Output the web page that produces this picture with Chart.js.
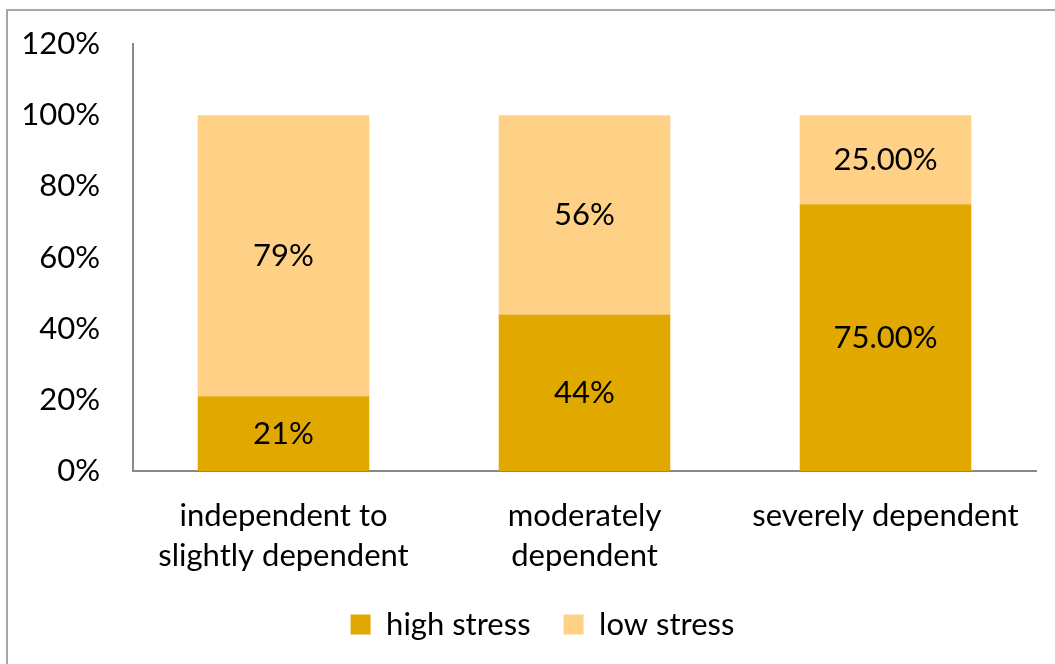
<!DOCTYPE html>
<html>
<head>
<meta charset="utf-8">
<script src="https://cdn.jsdelivr.net/npm/chart.js@4/dist/chart.umd.min.js"></script>
<style>
  html, body { margin: 0; padding: 0; background: #fff; overflow: hidden; }
  #frame { position: absolute; left: 6px; top: 9px; width: 1200px; height: 800px; border: 2px solid #a6a6a6; }
  #wrap { position: absolute; left: 0; top: 0; width: 1055px; height: 664px; }
</style>
</head>
<body>
<div id="frame"></div>
<div id="wrap"><canvas id="stress"></canvas></div>
<script>
var categories = [['independent to', 'slightly dependent'], ['moderately', 'dependent'], 'severely dependent'];
var highStress = [21, 44, 75];
var lowStress = [79, 56, 25];
var highLabels = ['21%', '44%', '75.00%'];
var lowLabels = ['79%', '56%', '25.00%'];
var yTicks = [0, 20, 40, 60, 80, 100, 120];

var fontFamily = "Lato, 'Open Sans', sans-serif";
var fontSize = 31;

// draw the value text in the middle of each bar segment
var barText = {
    id: 'barText',
    afterDatasetsDraw: function(chart) {
        var ctx = chart.ctx;
        ctx.save();
        ctx.font = fontSize + 'px ' + fontFamily;
        ctx.fillStyle = '#000';
        ctx.textAlign = 'center';
        ctx.textBaseline = 'middle';
        chart.data.datasets.forEach(function(ds, i) {
            var meta = chart.getDatasetMeta(i);
            meta.data.forEach(function(bar, j) {
                ctx.fillText(ds.valueLabels[j], bar.x, (bar.y + bar.base) / 2);
            });
        });
        ctx.restore();
    }
};

// legend sits a bit right of the canvas centre
var legendShift = {
    id: 'legendShift',
    afterLayout: function(chart) {
        chart.legend.left += 49;
    }
};

var ctx = document.getElementById('stress');
var chart = new Chart(ctx, {
    type: 'bar',
    data: {
        labels: categories,
        datasets: [{
            label: 'high stress',
            data: highStress,
            valueLabels: highLabels,
            backgroundColor: '#E1A900',
            borderWidth: 0
        }, {
            label: 'low stress',
            data: lowStress,
            valueLabels: lowLabels,
            backgroundColor: '#FED187',
            borderWidth: 0
        }]
    },
    options: {
        responsive: true,
        maintainAspectRatio: false,
        animation: false,
        datasets: {
            bar: { categoryPercentage: 1, barPercentage: 0.57 }
        },
        layout: {
            padding: { left: 0, right: 19, top: 44, bottom: 14 }
        },
        plugins: {
            tooltip: { enabled: false },
            legend: {
                position: 'bottom',
                labels: {
                    font: { family: fontFamily, size: fontSize },
                    color: '#000',
                    boxWidth: 20,
                    boxHeight: 20,
                    padding: 33
                }
            }
        },
        scales: {
            x: {
                stacked: true,
                afterFit: function(scale) {
                    scale.height = 105;
                    scale.paddingLeft = 0;
                    scale.paddingRight = 0;
                },
                grid: { display: false, drawTicks: false },
                border: { display: true, color: '#888', width: 2 },
                ticks: {
                    font: { family: fontFamily, size: fontSize, lineHeight: 1.29 },
                    color: '#000',
                    padding: 25,
                    maxRotation: 0,
                    autoSkip: false
                }
            },
            y: {
                stacked: true,
                min: 0,
                max: 120,
                afterBuildTicks: function(scale) {
                    scale.ticks = yTicks.map(function(v) { return { value: v }; });
                },
                afterFit: function(scale) {
                    scale.width = 133;
                    scale.paddingTop = 0;
                    scale.paddingBottom = 0;
                },
                grid: { display: false, drawTicks: false },
                border: { display: true, color: '#888', width: 2 },
                ticks: {
                    font: { family: fontFamily, size: fontSize },
                    color: '#000',
                    padding: 33,
                    callback: function(v) { return v + '%'; }
                }
            }
        }
    },
    plugins: [barText, legendShift]
});
</script>
</body>
</html>
